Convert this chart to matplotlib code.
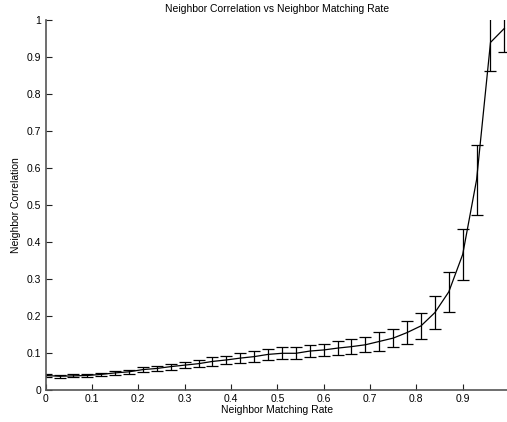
import matplotlib
matplotlib.use("Agg")
import matplotlib.pyplot as plt

# ---------------------------- Data ---------------------------- #

matching_rate = [0.00, 0.03, 0.06, 0.09, 0.12, 0.15, 0.18, 0.21, 0.24, 0.27,
                 0.30, 0.33, 0.36, 0.39, 0.42, 0.45, 0.48, 0.51, 0.54, 0.57,
                 0.60, 0.63, 0.66, 0.69, 0.72, 0.75, 0.78, 0.81, 0.84, 0.87,
                 0.90, 0.93, 0.96, 0.99]

correlation = [0.039, 0.037, 0.038, 0.039, 0.042, 0.046, 0.049, 0.055, 0.058, 0.063,
               0.067, 0.071, 0.077, 0.081, 0.086, 0.090, 0.096, 0.099, 0.099, 0.105,
               0.108, 0.113, 0.117, 0.122, 0.131, 0.140, 0.155, 0.173, 0.209, 0.265,
               0.366, 0.568, 0.939, 0.977]

correlation_err = [0.004, 0.004, 0.004, 0.004, 0.005, 0.006, 0.006, 0.007, 0.008, 0.008,
                   0.009, 0.010, 0.011, 0.012, 0.013, 0.014, 0.015, 0.016, 0.016, 0.016,
                   0.016, 0.019, 0.021, 0.020, 0.025, 0.025, 0.032, 0.035, 0.045, 0.054,
                   0.069, 0.095, 0.076, 0.063]

x_ticks = [0, 0.1, 0.2, 0.3, 0.4, 0.5, 0.6, 0.7, 0.8, 0.9]
x_tick_labels = ["0", "0.1", "0.2", "0.3", "0.4", "0.5", "0.6", "0.7", "0.8", "0.9"]
y_ticks = [0, 0.1, 0.2, 0.3, 0.4, 0.5, 0.6, 0.7, 0.8, 0.9, 1]
y_tick_labels = ["0", "0.1", "0.2", "0.3", "0.4", "0.5", "0.6", "0.7", "0.8", "0.9", "1"]

# ---------------------------- Plot ---------------------------- #

plt.rcParams['font.family'] = ['Liberation Sans', 'DejaVu Sans']

fig = plt.figure(figsize=(5.07, 4.22), dpi=100)
# axes run slightly past the right edge of the figure, as in the original
ax = fig.add_axes([0.090, 0.076, 0.914, 0.877])

ax.errorbar(matching_rate, correlation, yerr=correlation_err,
            color='black', linewidth=0.9, elinewidth=0.9,
            capsize=4, capthick=0.9)

ax.set_xlim(0, 1)
ax.set_ylim(0, 1)
ax.set_xticks(x_ticks)
ax.set_xticklabels(x_tick_labels)
ax.set_yticks(y_ticks)
ax.set_yticklabels(y_tick_labels)

for side in ['top', 'right']:
    ax.spines[side].set_visible(False)
for side in ['left', 'bottom']:
    ax.spines[side].set_color('#555555')
    ax.spines[side].set_linewidth(1.2)

ax.tick_params(direction='in', length=4, width=0.8, color='#222222',
               labelsize=7.5, pad=3)

ax.set_title('Neighbor Correlation vs Neighbor Matching Rate', fontsize=7.5, pad=6)
ax.set_xlabel('Neighbor Matching Rate', fontsize=7.5, labelpad=1)
ax.set_ylabel('Neighbor Correlation', fontsize=7.5, labelpad=4)

plt.savefig('out.png', dpi=100)
